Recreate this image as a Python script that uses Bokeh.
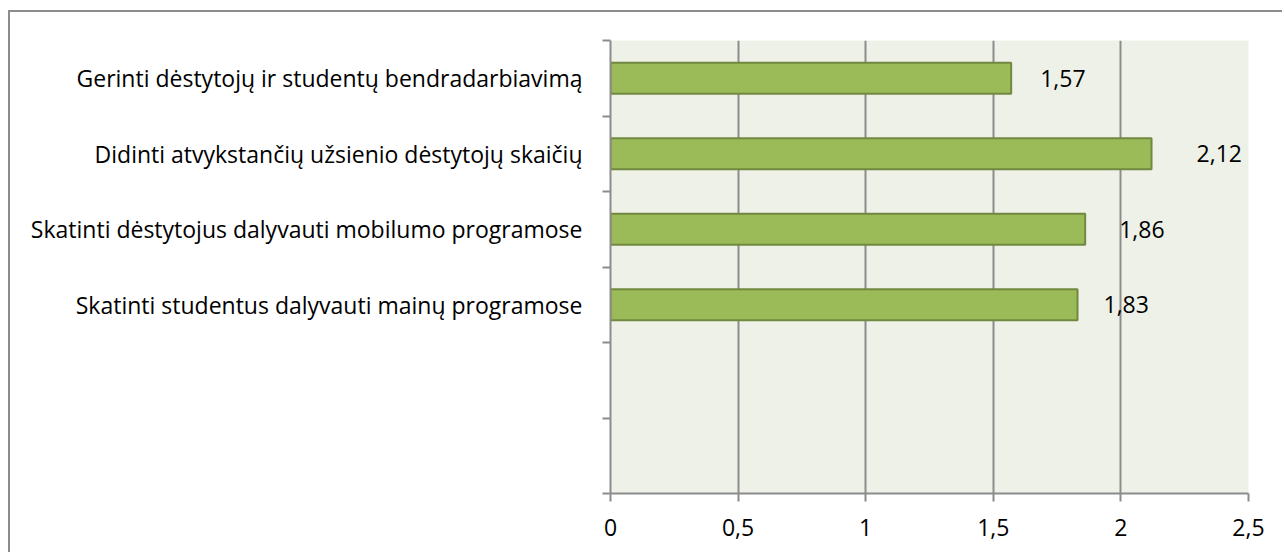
from bokeh.plotting import figure
from bokeh.models import Range1d, FixedTicker, ColumnDataSource
from bokeh.core.properties import value
from bokeh.embed import file_html
from bokeh.resources import INLINE

# ---- data ----
categories = [
    "Gerinti dėstytojų ir studentų bendradarbiavimą",
    "Didinti atvykstančių užsienio dėstytojų skaičių",
    "Skatinti dėstytojus dalyvauti mobilumo programose",
    "Skatinti studentus dalyvauti mainų programose",
]
values = [1.57, 2.12, 1.86, 1.83]
value_labels = ["1,57", "2,12", "1,86", "1,83"]
x_ticks = [0, 0.5, 1, 1.5, 2, 2.5]
x_tick_labels = ["0", "0,5", "1", "1,5", "2", "2,5"]
n_slots = 6  # 4 used category slots + 2 empty ones at the bottom

# style: manual nudges of the data labels (pixels), as in the original
label_shift_px = [29, 45, 34, 26]

FONT = "Open Sans"
FS = "23px"
GRID = "#8c8c8c"

ypos = [n_slots - 0.5 - i for i in range(len(categories))]

p = figure(
    width=1274, height=542,
    output_backend="svg", toolbar_location=None,
    x_range=Range1d(0, 2.5), y_range=Range1d(0, n_slots),
    min_border_left=600, min_border_right=36,
    min_border_top=28, min_border_bottom=61,
    background_fill_color="#eef1e8",
    border_fill_color="white",
    outline_line_color=None,
)
p.styles = {
    "border-left": "2px solid #8c8c8c",
    "border-top": "2px solid #8c8c8c",
    "margin-left": "8px",
    "margin-top": "10px",
}

src = ColumnDataSource(dict(y=ypos, v=values, lab=value_labels, dx=label_shift_px))
p.hbar(y="y", right="v", left=0, height=0.41, source=src,
       fill_color="#9bbb59", line_color="#71893f", line_width=2)

p.text(x="v", y="y", text="lab", x_offset="dx", source=src,
       text_font=value(FONT), text_font_size=FS, text_color="black",
       text_align="left", text_baseline="middle")

# x axis
xa = p.xaxis[0]
xa.ticker = FixedTicker(ticks=x_ticks)
xa.major_label_overrides = {t: l for t, l in zip(x_ticks, x_tick_labels)}
xa.major_label_overrides.update({0: "0", 1: "1", 2: "2"})
xa.axis_line_color = GRID
xa.axis_line_width = 2
xa.major_tick_line_color = GRID
xa.major_tick_line_width = 2
xa.major_tick_out = 8
xa.major_tick_in = 0
xa.minor_tick_line_color = None
xa.major_label_text_font = FONT
xa.major_label_text_font_size = FS
xa.major_label_text_color = "black"
xa.major_label_standoff = 17

# y axis: labels at slot centres, tick marks at slot boundaries
ya = p.yaxis[0]
ya.ticker = FixedTicker(ticks=ypos, minor_ticks=list(range(n_slots + 1)))
ya.major_label_overrides = {y: c for y, c in zip(ypos, categories)}
ya.axis_line_color = GRID
ya.axis_line_width = 2
ya.major_tick_line_color = None
ya.major_tick_out = 0
ya.major_tick_in = 0
ya.minor_tick_line_color = GRID
ya.minor_tick_line_width = 2
ya.minor_tick_out = 8
ya.minor_tick_in = 0
ya.major_label_text_font = FONT
ya.major_label_text_font_size = FS
ya.major_label_text_color = "black"
ya.major_label_standoff = 20

p.xgrid.ticker = FixedTicker(ticks=x_ticks)
p.xgrid.grid_line_color = GRID
p.xgrid.grid_line_width = 2
p.ygrid.grid_line_color = None

open("out.html", "w").write(file_html(p, INLINE))
